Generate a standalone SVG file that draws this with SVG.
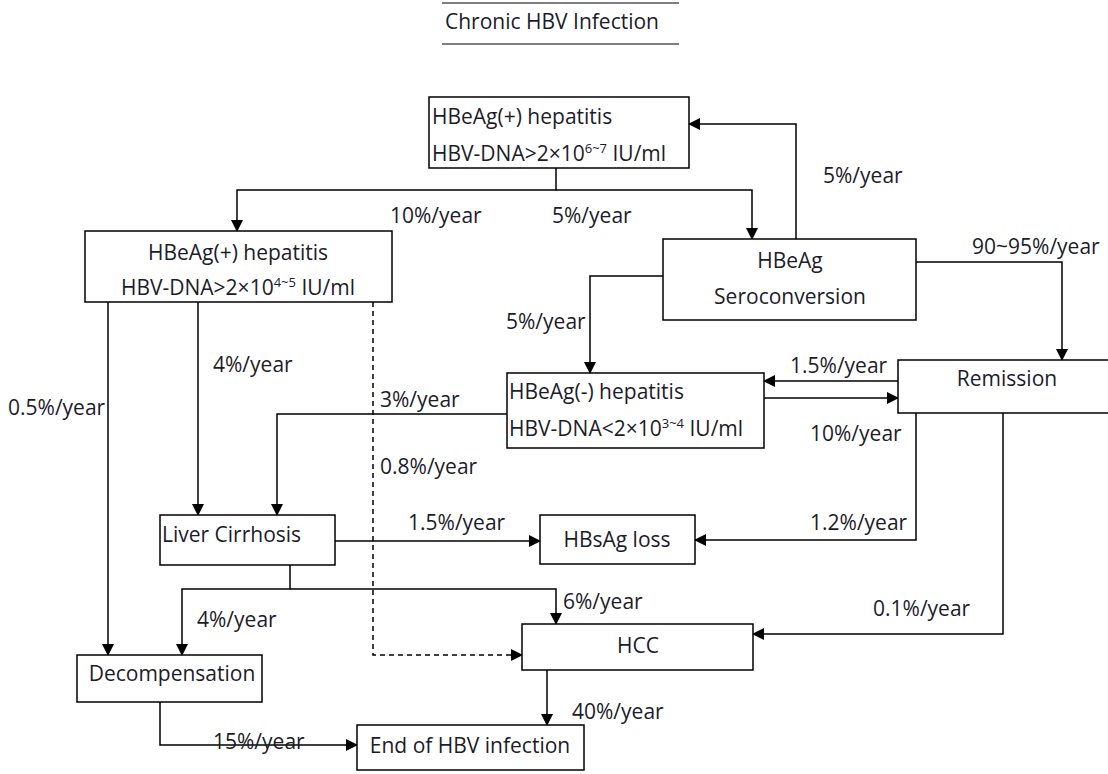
<svg xmlns="http://www.w3.org/2000/svg" width="1108" height="774" viewBox="0 0 1108 774">
<style>
text{font-family:"Open Sans","Liberation Sans",Arial,sans-serif;font-size:21px;fill:#1c1c2a}
.box{fill:#fff;stroke:#000;stroke-width:1.5}
.c{fill:none;stroke:#000;stroke-width:1.5}
.d{fill:none;stroke:#000;stroke-width:1.5;stroke-dasharray:5,4}
.m{text-anchor:middle}
.sup{font-size:13px}
</style>
<defs>
<marker id="a" markerUnits="userSpaceOnUse" markerWidth="12" markerHeight="12" refX="11" refY="6" orient="auto">
<path d="M0,0 L12,6 L0,12 z" fill="#000"/>
</marker>
</defs>
<rect width="1108" height="774" fill="#fff"/>
<g id="title">
<line x1="442" y1="3" x2="679" y2="3" stroke="#000" stroke-width="1.2"/>
<text x="445" y="29">Chronic HBV Infection</text>
<line x1="442" y1="44" x2="679" y2="44" stroke="#000" stroke-width="1.2"/>
</g>
<g id="connectors">
<path class="c" d="M556,168 V190 H237 V231" marker-end="url(#a)"/>
<path class="c" d="M556,190 H752 V239" marker-end="url(#a)"/>
<path class="c" d="M796,239 V124 H689" marker-end="url(#a)"/>
<path class="c" d="M916,262 H1062 V360" marker-end="url(#a)"/>
<path class="c" d="M663,276 H590 V373" marker-end="url(#a)"/>
<path class="c" d="M898,381 H764" marker-end="url(#a)"/>
<path class="c" d="M764,398 H898" marker-end="url(#a)"/>
<path class="c" d="M916,413 V540 H695" marker-end="url(#a)"/>
<path class="c" d="M1003,413 V634 H753" marker-end="url(#a)"/>
<path class="c" d="M507,414 H277 V515" marker-end="url(#a)"/>
<path class="c" d="M198,302 V515" marker-end="url(#a)"/>
<path class="c" d="M108,302 V655" marker-end="url(#a)"/>
<path class="d" d="M373,302 V655 H522" marker-end="url(#a)"/>
<path class="c" d="M335,541 H540" marker-end="url(#a)"/>
<path class="c" d="M290,565 V589 H182 V655" marker-end="url(#a)"/>
<path class="c" d="M290,589 H556 V624" marker-end="url(#a)"/>
<path class="c" d="M160,702 V745 H357" marker-end="url(#a)"/>
<path class="c" d="M547,670 V725" marker-end="url(#a)"/>
<text x="823" y="183">5%/year</text>
<text x="390" y="223">10%/year</text>
<text x="552" y="223">5%/year</text>
<text x="972" y="254">90~95%/year</text>
<text x="506" y="329">5%/year</text>
<text x="790" y="373">1.5%/year</text>
<text x="213" y="372">4%/year</text>
<text x="8" y="415">0.5%/year</text>
<text x="380" y="407">3%/year</text>
<text x="810" y="441">10%/year</text>
<text x="380" y="474">0.8%/year</text>
<text x="408" y="530">1.5%/year</text>
<text x="810" y="530">1.2%/year</text>
<text x="563" y="609">6%/year</text>
<text x="197" y="627">4%/year</text>
<text x="873" y="616">0.1%/year</text>
<text x="572" y="719">40%/year</text>
<text x="213" y="749">15%/year</text>
</g>
<g id="hbeag-pos-top">
<rect class="box" x="429" y="97" width="260" height="71"/>
<text x="432" y="124">HBeAg(+) hepatitis</text>
<text x="432" y="161">HBV-DNA&gt;2×10<tspan class="sup" dy="-8">6~7</tspan><tspan dy="8"> IU/ml</tspan></text>
</g>
<g id="hbeag-pos-left">
<rect class="box" x="85" y="231" width="307" height="71"/>
<text class="m" x="238" y="260">HBeAg(+) hepatitis</text>
<text class="m" x="238" y="295">HBV-DNA&gt;2×10<tspan class="sup" dy="-8">4~5</tspan><tspan dy="8"> IU/ml</tspan></text>
</g>
<g id="seroconversion">
<rect class="box" x="663" y="239" width="253" height="81"/>
<text class="m" x="790" y="268">HBeAg</text>
<text class="m" x="790" y="304">Seroconversion</text>
</g>
<g id="hbeag-neg">
<rect class="box" x="507" y="373" width="257" height="75"/>
<text x="509" y="399">HBeAg(-) hepatitis</text>
<text x="509" y="436">HBV-DNA&lt;2×10<tspan class="sup" dy="-8">3~4</tspan><tspan dy="8"> IU/ml</tspan></text>
</g>
<g id="remission">
<rect class="box" x="898" y="360" width="214" height="53"/>
<text class="m" x="1007" y="386">Remission</text>
</g>
<g id="liver-cirrhosis">
<rect class="box" x="160" y="515" width="175" height="50"/>
<text x="162" y="542">Liver Cirrhosis</text>
</g>
<g id="hbsag-loss">
<rect class="box" x="540" y="515" width="155" height="49"/>
<text class="m" x="617" y="547">HBsAg loss</text>
</g>
<g id="hcc">
<rect class="box" x="522" y="624" width="231" height="46"/>
<text class="m" x="638" y="653">HCC</text>
</g>
<g id="decompensation">
<rect class="box" x="77" y="655" width="185" height="47"/>
<text class="m" x="172" y="681">Decompensation</text>
</g>
<g id="end">
<rect class="box" x="357" y="725" width="227" height="45"/>
<text class="m" x="470" y="753">End of HBV infection</text>
</g>
</svg>
